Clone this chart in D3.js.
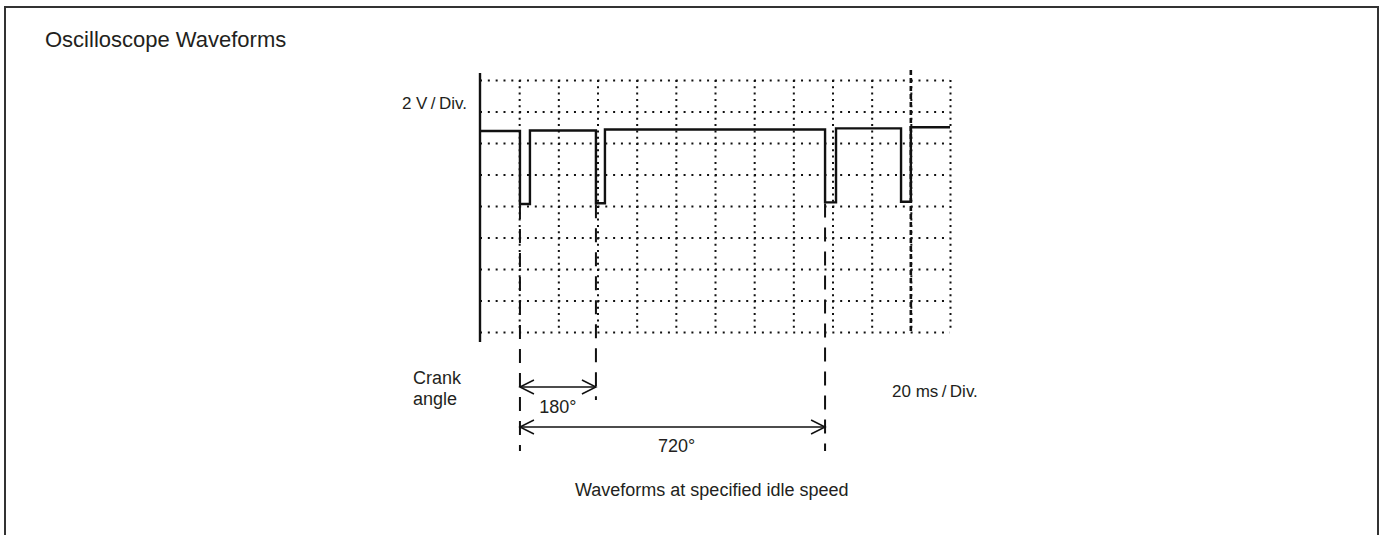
<!DOCTYPE html>
<meta charset="utf-8">
<style>
  body { margin: 0; background: #fff; }
  svg text { font-family: "Liberation Sans", Arial, Helvetica, sans-serif; fill: #231f20; }
  .grid line { stroke: #111; stroke-width: 2; }
  .grid path { display: none; }
</style>
<svg width="1380" height="535"></svg>
<script src="https://cdn.jsdelivr.net/npm/d3@7"></script>
<script>
// scope settings
var msPerDiv = 20, voltsPerDiv = 2;
var gridTimeMs = d3.range(20, 241, 20);
var gridVolts = d3.range(0, 17, 2);

// ignition pulses (ms from left edge of screen)
var pulseDropMs = [20.4, 59.2, 176.2, 215.0];
var pulseRiseMs = [25.5, 63.8, 181.8, 220.0];
// signal level between pulses / at the bottom of each pulse (V)
var highLevelV = [12.76, 12.79, 12.86, 12.93, 13.0];
var lowLevelV = [8.13, 8.17, 8.23, 8.27];

// crank angle spans
var crankLabels = ["180°", "720°"];
var crankFromMs = [20.4, 20.4];
var crankToMs = [59.2, 176.2];
var heavyMarkMs = 220;

var svg = d3.select("svg");

// frame
svg.append("rect")
  .attr("x", 5).attr("y", 7).attr("width", 1373).attr("height", 560)
  .attr("fill", "none").attr("stroke", "#333").attr("stroke-width", 2);

svg.append("text").attr("x", 45).attr("y", 47)
  .style("font-size", "22px").text("Oscilloscope Waveforms");

var x = d3.scaleLinear().domain([0, 12 * msPerDiv]).range([480, 950]);
var y = d3.scaleLinear().domain([0, 8 * voltsPerDiv]).range([332, 80]);

// dotted graticule
svg.append("g").attr("class", "grid")
  .attr("transform", "translate(0," + y(16) + ")")
  .call(d3.axisTop(x).tickValues(gridTimeMs).tickSize(-(y(0) - y(16))).tickFormat(""))
  .selectAll("line").attr("stroke-dasharray", "2,4.3");

svg.append("g").attr("class", "grid")
  .attr("transform", "translate(" + x(0) + ",0)")
  .call(d3.axisLeft(y).tickValues(gridVolts).tickSize(-(x(240) - x(0))).tickFormat(""))
  .selectAll("line").attr("stroke-dasharray", "2,5.83");

// heavier marker on the graticule
svg.append("line")
  .attr("x1", x(heavyMarkMs)).attr("x2", x(heavyMarkMs))
  .attr("y1", y(16) - 10).attr("y2", y(0) + 1)
  .attr("stroke", "#111").attr("stroke-width", 2.6).attr("stroke-dasharray", "5,3");

// left solid edge
svg.append("line")
  .attr("x1", x(0)).attr("x2", x(0))
  .attr("y1", y(16) - 7).attr("y2", y(0) + 10)
  .attr("stroke", "#111").attr("stroke-width", 2.4);

// waveform
var pts = [[0, highLevelV[0]]];
pulseDropMs.forEach(function (t, i) {
  pts.push([t, highLevelV[i]], [t, lowLevelV[i]],
    [pulseRiseMs[i], lowLevelV[i]], [pulseRiseMs[i], highLevelV[i + 1]]);
});
pts.push([12 * msPerDiv, highLevelV[4]]);

svg.append("path")
  .attr("d", d3.line().x(function (d) { return x(d[0]); }).y(function (d) { return y(d[1]); })(pts))
  .attr("fill", "none").attr("stroke", "#111").attr("stroke-width", 2.4)
  .attr("stroke-linejoin", "miter");

// crank angle dimension lines
var arrowY = [387, 427];
var markerBottom = {};
crankFromMs.forEach(function (t, i) {
  markerBottom[t] = Math.max(markerBottom[t] || 0, arrowY[i] + (i == 0 ? 13 : 24));
  markerBottom[crankToMs[i]] = Math.max(markerBottom[crankToMs[i]] || 0, arrowY[i] + (i == 0 ? 13 : 24));
});
Object.keys(markerBottom).forEach(function (k) {
  var t = +k;
  var lvl = lowLevelV[pulseDropMs.indexOf(t)];
  svg.append("line")
    .attr("x1", x(t)).attr("x2", x(t))
    .attr("y1", y(lvl) + 1).attr("y2", markerBottom[k])
    .attr("stroke", "#111").attr("stroke-width", 2).attr("stroke-dasharray", "14,10");
});

crankLabels.forEach(function (lab, i) {
  var x0 = x(crankFromMs[i]), x1 = x(crankToMs[i]), yy = arrowY[i];
  var g = svg.append("g").attr("fill", "none").attr("stroke", "#111").attr("stroke-width", 1.5);
  g.append("line").attr("x1", x0).attr("x2", x1).attr("y1", yy).attr("y2", yy);
  g.append("path").attr("d", "M" + (x0 + 14) + "," + (yy - 7) + "L" + x0 + "," + yy + "L" + (x0 + 14) + "," + (yy + 7));
  g.append("path").attr("d", "M" + (x1 - 14) + "," + (yy - 7) + "L" + x1 + "," + yy + "L" + (x1 - 14) + "," + (yy + 7));
});

svg.append("text").attr("x", (x(crankFromMs[0]) + x(crankToMs[0])) / 2 + 0).attr("y", 413)
  .attr("text-anchor", "middle").style("font-size", "18px").text(crankLabels[0]);
svg.append("text").attr("x", (x(crankFromMs[1]) + x(crankToMs[1])) / 2 + 4).attr("y", 452)
  .attr("text-anchor", "middle").style("font-size", "18px").text(crankLabels[1]);

// labels
svg.append("text").attr("x", 467).attr("y", 109).attr("text-anchor", "end")
  .style("font-size", "17px").text("2 V\u2009/\u2009Div.");
svg.append("text").attr("x", 413).attr("y", 384).style("font-size", "18px").text("Crank");
svg.append("text").attr("x", 413).attr("y", 405).style("font-size", "18px").text("angle");
svg.append("text").attr("x", 892).attr("y", 397).style("font-size", "17px").text("20 ms\u2009/\u2009Div.");
svg.append("text").attr("x", 575).attr("y", 496).style("font-size", "18px").text("Waveforms at specified idle speed");
</script>
